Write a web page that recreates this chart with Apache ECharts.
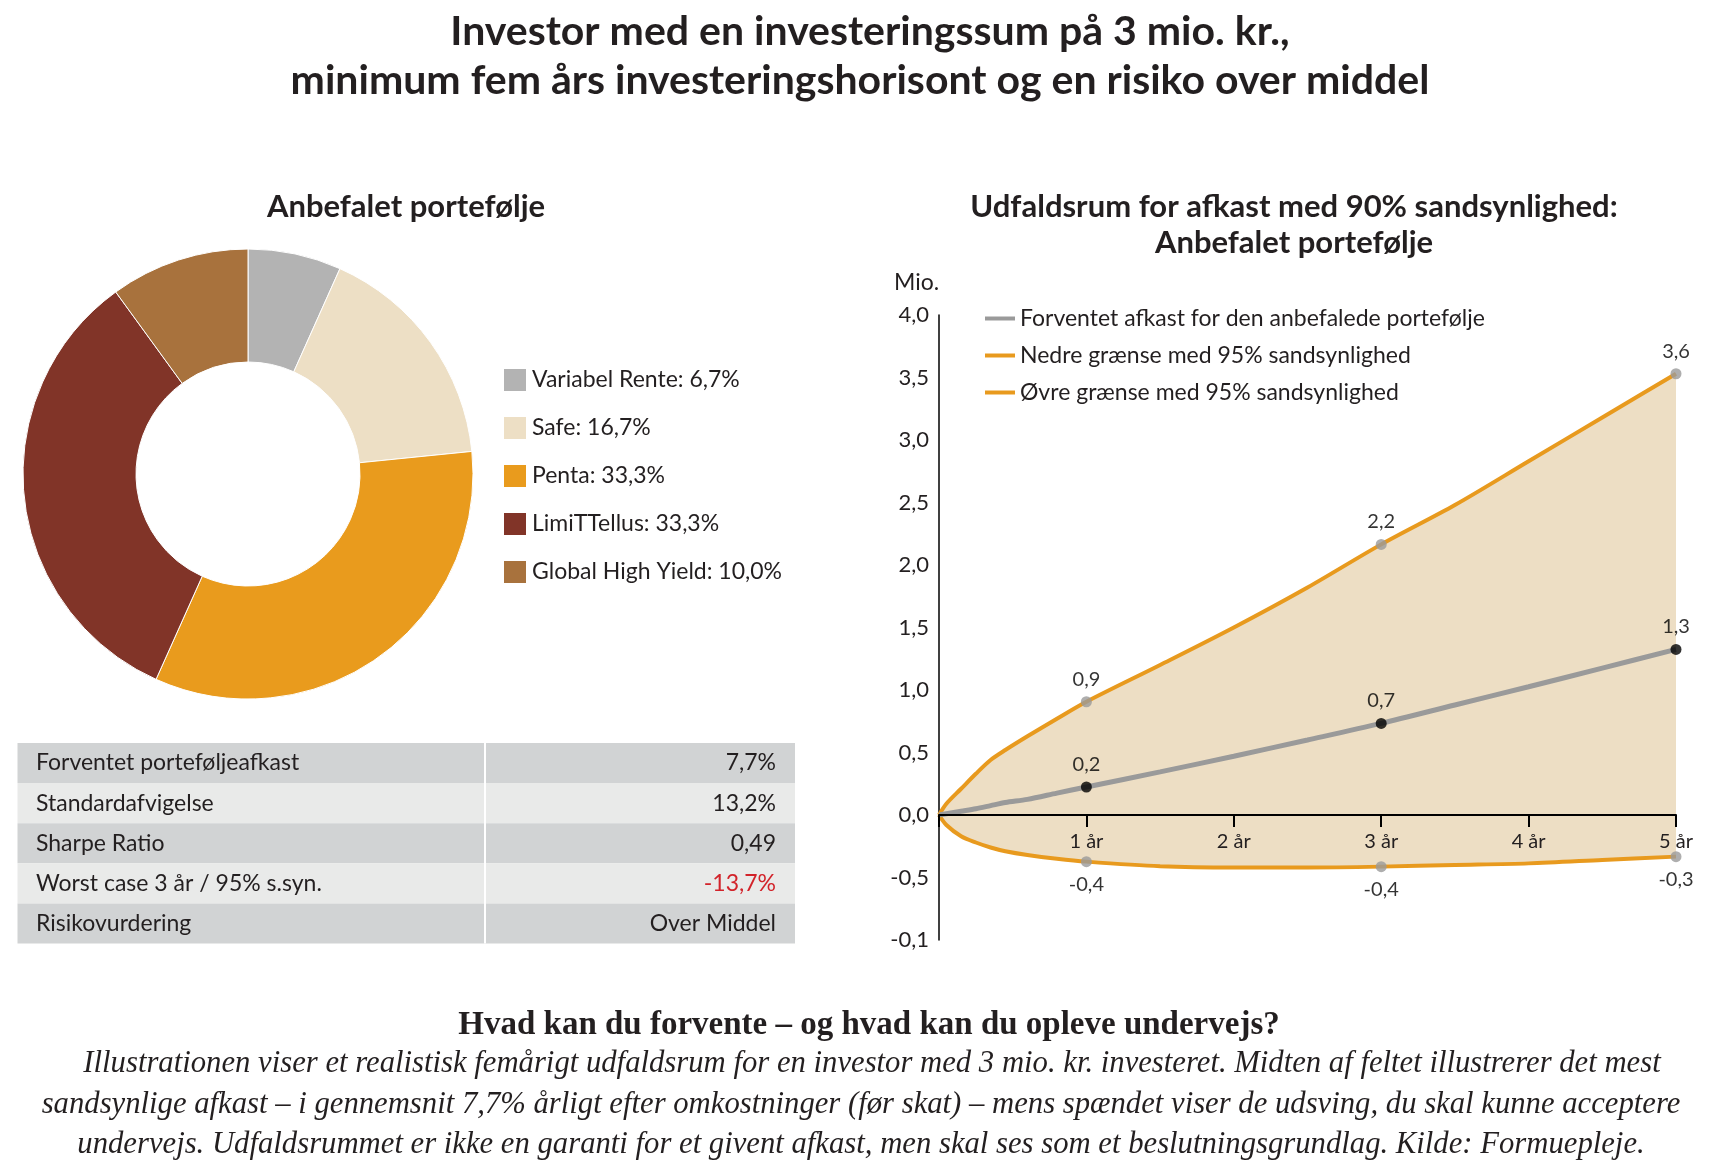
<!DOCTYPE html>
<html>
<head>
    <meta charset="UTF-8">
    <title>Anbefalet portefølje</title>
    <script src="https://cdn.jsdelivr.net/npm/echarts/dist/echarts.min.js"></script>
    <style>
        html, body { margin: 0; padding: 0; background: #fff; }
    </style>
</head>
<body>
    <div id="main" style="width: 1710px;height:1175px;"></div>
    <script type="text/javascript">
        var myChart = echarts.init(document.getElementById('main'));

        // pie data
        var pieNames = ['Variabel Rente', 'Safe', 'Penta', 'LimiTTellus', 'Global High Yield'];
        var pieValues = [6.7, 16.7, 33.3, 33.3, 10.0];

        // key figures table
        var tableLabels = ['Forventet porteføljeafkast', 'Standardafvigelse', 'Sharpe Ratio', 'Worst case 3 år / 95% s.syn.', 'Risikovurdering'];
        var tableValues = ['7,7%', '13,2%', '0,49', '-13,7%', 'Over Middel'];

        // outcome band (mio. kr.)
        var years = [0, 0.05, 0.15, 0.25, 0.35, 0.45, 0.6, 0.8, 1, 1.5, 2, 2.5, 3, 3.5, 4, 4.5, 5];
        var upper = [0, 0.09, 0.21, 0.33, 0.44, 0.52, 0.63, 0.77, 0.906, 1.2, 1.5, 1.82, 2.165, 2.48, 2.83, 3.18, 3.53];
        var lower = [0, -0.08, -0.17, -0.22, -0.26, -0.29, -0.32, -0.35, -0.373, -0.41, -0.42, -0.42, -0.413, -0.40, -0.387, -0.36, -0.333];
        var expected = [0, 0.01, 0.03, 0.05, 0.075, 0.1, 0.125, 0.175, 0.224, 0.345, 0.47, 0.6, 0.733, 0.88, 1.026, 1.175, 1.325];

        // labelled points
        var markYears = [1, 3, 5];
        var upperLabels = ['0,9', '2,2', '3,6'];
        var expectedLabels = ['0,2', '0,7', '1,3'];
        var lowerLabels = ['-0,4', '-0,4', '-0,3'];

        var xTickLabels = ['', '1 år', '2 år', '3 år', '4 år', '5 år'];
        var yTickLabels = ['-0,1', '-0,5', '0,0', '0,5', '1,0', '1,5', '2,0', '2,5', '3,0', '3,5', '4,0'];

        var lineNames = ['Forventet afkast for den anbefalede portefølje', 'Nedre grænse med 95% sandsynlighed', 'Øvre grænse med 95% sandsynlighed'];

        var pieColors = ['#b3b3b3', '#eddfc5', '#e99b1d', '#813428', '#a8723d'];
        var orange = '#e89a1e';
        var grey = '#9a9a9a';
        var band = '#eddec4';
        var ink = '#231f20';
        var sans = 'Lato';

        function pairs(xs, ys) {
            return xs.map(function (x, i) { return [x, ys[i]]; });
        }
        function marks(ys, labels) {
            return markYears.map(function (x, i) {
                return { value: [x, ys[years.indexOf(x)]], label: { formatter: labels[i] } };
            });
        }

        // texts and table
        var graphic = [];
        function text(x, y, str, font, align, color) {
            graphic.push({
                type: 'text', x: x, y: y,
                style: {
                    text: str, font: font, fill: color || ink,
                    textAlign: align || 'center', align: align || 'center',
                    textVerticalAlign: 'middle', verticalAlign: 'middle'
                }
            });
        }
        text(870, 32, 'Investor med en investeringssum på 3 mio. kr.,', 'bold 41px ' + sans);
        text(860, 81, 'minimum fem års investeringshorisont og en risiko over middel', 'bold 41px ' + sans);
        text(406, 207, 'Anbefalet portefølje', 'bold 31px ' + sans);
        text(1294, 207, 'Udfaldsrum for afkast med 90% sandsynlighed:', 'bold 31px ' + sans);
        text(1294, 243, 'Anbefalet portefølje', 'bold 31px ' + sans);
        text(894, 283, 'Mio.', '23px ' + sans, 'left');

        var tTop = 743, rowH = 40.1, tLeft = 17.5, tRight = 795, tDiv = 485;
        tableLabels.forEach(function (label, i) {
            var y = tTop + i * rowH;
            graphic.push({
                type: 'rect',
                shape: { x: tLeft, y: y, width: tRight - tLeft, height: rowH },
                style: { fill: i % 2 === 0 ? '#d1d3d4' : '#e9eae9' }
            });
            text(36, y + rowH / 2, label, '23px ' + sans, 'left');
            text(776, y + rowH / 2, tableValues[i], '23px ' + sans, 'right', tableValues[i].charAt(0) === '-' ? '#d2232a' : ink);
        });
        graphic.push({
            type: 'rect',
            shape: { x: tDiv - 1, y: tTop, width: 2, height: rowH * tableLabels.length },
            style: { fill: '#ffffff' }
        });

        text(869, 1025, 'Hvad kan du forvente – og hvad kan du opleve undervejs?', 'bold 33px "Liberation Serif"');
        text(872, 1064, 'Illustrationen viser et realistisk femårigt udfaldsrum for en investor med 3 mio. kr. investeret. Midten af feltet illustrerer det mest', 'italic 30.7px "Liberation Serif"');
        text(861, 1105, 'sandsynlige afkast – i gennemsnit 7,7% årligt efter omkostninger (før skat) – mens spændet viser de udsving, du skal kunne acceptere', 'italic 30.7px "Liberation Serif"');
        text(861, 1145, 'undervejs. Udfaldsrummet er ikke en garanti for et givent afkast, men skal ses som et beslutningsgrundlag. Kilde: Formuepleje.', 'italic 30.7px "Liberation Serif"');

        var markLabel = { show: true, color: '#000', fontFamily: sans, fontSize: 20 };

        var option = {
            animation: false,
            backgroundColor: '#ffffff',
            textStyle: { fontFamily: sans, color: ink },
            graphic: graphic,
            legend: [
                {
                    data: pieNames,
                    orient: 'vertical',
                    left: 497, top: 362,
                    icon: 'rect', itemWidth: 24, itemHeight: 24, itemGap: 22,
                    selectedMode: false,
                    textStyle: { fontSize: 23, lineHeight: 24, color: ink, fontFamily: sans },
                    formatter: function (name) {
                        var v = pieValues[pieNames.indexOf(name)];
                        return name + ': ' + v.toFixed(1).replace('.', ',') + '%';
                    }
                },
                {
                    data: lineNames.map(function (n, i) {
                        return { name: n, itemStyle: { color: i === 0 ? grey : orange } };
                    }),
                    orient: 'vertical',
                    left: 980, top: 302,
                    icon: 'rect', itemWidth: 30, itemHeight: 4, itemGap: 14,
                    selectedMode: false,
                    textStyle: { fontSize: 23, lineHeight: 23, color: ink, fontFamily: sans }
                }
            ],
            grid: { left: 939, right: 34, top: 315, bottom: 235, containLabel: false },
            xAxis: {
                type: 'value', min: 0, max: 5, interval: 1, z: 5,
                position: 'bottom',
                offset: -125,
                axisLine: { onZero: false, lineStyle: { color: '#000', width: 2 } },
                axisTick: { show: true, length: 12, lineStyle: { color: '#000', width: 2 } },
                axisLabel: {
                    margin: 17, fontSize: 20, color: ink, fontFamily: sans,
                    formatter: function (v) { return xTickLabels[v]; }
                },
                splitLine: { show: false }
            },
            yAxis: {
                type: 'value', min: -1, max: 4, interval: 0.5,
                axisLine: { show: true, onZero: false, lineStyle: { color: '#000', width: 1.5 } },
                axisTick: { show: false },
                axisLabel: {
                    margin: 10, fontSize: 22, color: ink, fontFamily: sans,
                    formatter: function (v, i) { return yTickLabels[i]; }
                },
                splitLine: { show: false }
            },
            series: [
                {
                    type: 'pie',
                    center: [248, 474],
                    radius: [112, 225],
                    startAngle: 90,
                    clockwise: true,
                    label: { show: false },
                    labelLine: { show: false },
                    itemStyle: { borderColor: '#ffffff', borderWidth: 1 },
                    emphasis: { disabled: true },
                    data: pieNames.map(function (n, i) {
                        return { name: n, value: pieValues[i], itemStyle: { color: pieColors[i] } };
                    })
                },
                {
                    name: lineNames[2],
                    type: 'line',
                    data: pairs(years, upper),
                    smooth: 0.3,
                    showSymbol: false,
                    lineStyle: { color: orange, width: 4 },
                    itemStyle: { color: orange },
                    areaStyle: { color: band, opacity: 1 },
                    z: 2
                },
                {
                    name: lineNames[1],
                    type: 'line',
                    data: pairs(years, lower),
                    smooth: 0.3,
                    showSymbol: false,
                    lineStyle: { color: orange, width: 4 },
                    itemStyle: { color: orange },
                    areaStyle: { color: band, opacity: 1 },
                    z: 2
                },
                {
                    name: lineNames[0],
                    type: 'line',
                    data: pairs(years, expected),
                    smooth: 0.3,
                    showSymbol: false,
                    lineStyle: { color: grey, width: 5 },
                    itemStyle: { color: grey },
                    z: 3
                },
                {
                    type: 'scatter', name: 'upperMarks',
                    data: marks(upper, upperLabels),
                    symbolSize: 11, itemStyle: { color: grey },
                    label: Object.assign({ position: 'top', distance: 7 }, markLabel),
                    z: 6
                },
                {
                    type: 'scatter', name: 'expectedMarks',
                    data: marks(expected, expectedLabels),
                    symbolSize: 11, itemStyle: { color: '#000' },
                    label: Object.assign({ position: 'top', distance: 7 }, markLabel),
                    z: 6
                },
                {
                    type: 'scatter', name: 'lowerMarks',
                    data: marks(lower, lowerLabels),
                    symbolSize: 11, itemStyle: { color: grey },
                    label: Object.assign({ position: 'bottom', distance: 7 }, markLabel),
                    z: 6
                }
            ]
        };

        myChart.setOption(option);
    </script>
</body>
</html>
